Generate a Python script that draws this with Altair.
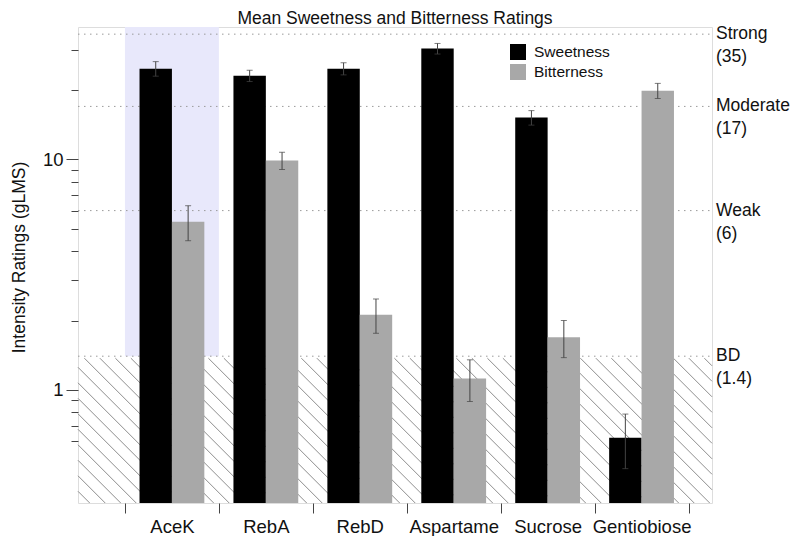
import json
import math
import altair as alt
import pandas as pd

# ---- data ----
categories = ["AceK", "RebA", "RebD", "Aspartame", "Sucrose", "Gentiobiose"]
sweetness = [24.8, 23.1, 24.8, 30.3, 15.2, 0.62]
sweetness_se = [1.8, 1.3, 1.5, 1.6, 1.1, 0.165]
bitterness = [5.37, 9.9, 2.12, 1.12, 1.69, 19.9]
bitterness_se = [0.93, 0.85, 0.36, 0.23, 0.31, 1.5]
ref_names = ["Strong", "Moderate", "Weak", "BD"]
ref_values = [35, 17, 6, 1.4]
highlight = "AceK"
series_names = ["Sweetness", "Bitterness"]
series_colors = ["#000000", "#A8A8A8"]
y_tick_values = [0.6, 0.7, 0.8, 0.9, 1, 2, 3, 4, 5, 6, 7, 8, 9, 10, 20, 30]
y_major = [1, 10]

# ---- layout ----
W, H = 634, 476
X_DOM = [-0.5, 6.25]
Y_DOM = [0.3227, 37.6]
PAD = 0.155          # gap between group edge and bars (group units)
FONT = "Liberation Sans"

rows = []
for i, c in enumerate(categories):
    for s, vals, ses in [("Sweetness", sweetness, sweetness_se),
                         ("Bitterness", bitterness, bitterness_se)]:
        v, se = vals[i], ses[i]
        if s == "Sweetness":
            x0, x1 = i + PAD, i + 0.5
        else:
            x0, x1 = i + 0.5, i + 1 - PAD
        rows.append(dict(cat=c, series=s, value=v, lo=v - se, hi=v + se,
                         x0=x0, x1=x1, xc=(x0 + x1) / 2, base=Y_DOM[0]))
bars_df = pd.DataFrame(rows)

hi_idx = categories.index(highlight)
hl_df = pd.DataFrame([dict(x0=hi_idx, x1=hi_idx + 1, y0=min(ref_values), y1=Y_DOM[1])])

ref_df = pd.DataFrame(dict(name=[f"{n}\n({v})" for n, v in zip(ref_names, ref_values)],
                           value=ref_values))

# hatch lines below the detection threshold (decoration)
lt, lb = math.log10(Y_DOM[1]), math.log10(Y_DOM[0])
bd = min(ref_values)
y_bd_px = (lt - math.log10(bd)) / (lt - lb) * H
spacing = 15.5
c0 = -324.8
hatch = []
k_min = math.floor((-H - c0) / spacing)
k_max = math.ceil((W - y_bd_px - c0) / spacing)


def tx(px):
    return X_DOM[0] + px / W * (X_DOM[1] - X_DOM[0])


def ty(py):
    return 10 ** (lt - py / H * (lt - lb))


for k in range(k_min, k_max + 1):
    c = c0 + k * spacing
    ylo = max(y_bd_px + 2, -c)
    yhi = min(H, W - c)
    if ylo < yhi:
        hatch.append(dict(x0=tx(ylo + c), x1=tx(yhi + c), y0=ty(ylo), y1=ty(yhi)))
hatch_df = pd.DataFrame(hatch)

xs = alt.Scale(domain=X_DOM, nice=False, zero=False)
ys = alt.Scale(type="log", domain=Y_DOM, nice=False)

names_js = json.dumps(categories)
x_axis = alt.Axis(
    values=[v / 2 for v in range(0, 13)],
    labelExpr=f"datum.value % 1 != 0 ? {names_js}[floor(datum.value)] : ''",
    tickOpacity={"condition": {"test": "datum.value % 1 == 0", "value": 1}, "value": 0},
    tickSize=10, tickColor="#444", domain=False, grid=False, title=None,
    labelFontSize=18.5, labelColor="#111", labelPadding=4, labelOverlap=False,
    labelFlush=False, labelFont=FONT,
)
major_test = " || ".join(f"datum.value == {v}" for v in y_major)
y_axis = alt.Axis(
    values=y_tick_values, format="~g",
    labelExpr=f"({major_test}) ? datum.label : ''",
    tickSize={"condition": {"test": major_test, "value": 12}, "value": 7},
    tickColor="#444", domain=False, grid=False,
    title="Intensity Ratings (gLMS)", titleFontSize=17.5, titleFontWeight="normal",
    titleColor="#111", titleFont=FONT, titleX=-59, titleY=230, titleBaseline="middle",
    titleAngle=-90, titleAlign="center",
    labelFontSize=18.5, labelColor="#111", labelPadding=3, labelOverlap=False,
    labelFont=FONT,
)


def X(f):
    return alt.X(f, type="quantitative", scale=xs, axis=x_axis)


def Y(f):
    return alt.Y(f, type="quantitative", scale=ys, axis=y_axis)


highlight_layer = alt.Chart(hl_df).mark_rect(color="#E8E8FB").encode(
    x=X("x0"), x2="x1", y=Y("y0"), y2="y1",
)

hatch_layer = alt.Chart(hatch_df).mark_rule(color="#808080", strokeWidth=0.9).encode(
    x=X("x0"), x2="x1", y=Y("y0"), y2="y1",
)

ref_lines = alt.Chart(ref_df).mark_rule(color="#9a9a9a", strokeDash=[1.5, 4.5], strokeWidth=1).encode(
    y=Y("value"), x=alt.value(0), x2=alt.value(W),
)

ref_text = alt.Chart(ref_df).mark_text(
    align="left", baseline="middle", lineBreak="\n", lineHeight=23,
    fontSize=17.5, font=FONT, color="#111",
).encode(
    y=Y("value"), x=alt.value(W + 4), text="name:N",
)

bars = alt.Chart(bars_df).mark_rect().encode(
    x=X("x0"), x2="x1", y=Y("value"), y2="base",
    color=alt.Color("series:N",
                    scale=alt.Scale(domain=series_names, range=series_colors),
                    legend=alt.Legend(orient="none", legendX=432, legendY=17, title=None,
                                      symbolType="square", symbolSize=256,
                                      symbolStrokeWidth=0, symbolOpacity=1,
                                      labelFontSize=15.5, labelFont=FONT, labelColor="#111",
                                      labelOffset=8, rowPadding=3, padding=0)),
)

err = alt.Chart(bars_df).mark_rule(color="#444", strokeWidth=1).encode(
    x=X("xc"), y=Y("lo"), y2="hi",
)
cap_lo = alt.Chart(bars_df).mark_tick(color="#444", orient="horizontal", size=6, thickness=1).encode(
    x=X("xc"), y=Y("lo"),
)
cap_hi = alt.Chart(bars_df).mark_tick(color="#444", orient="horizontal", size=6, thickness=1).encode(
    x=X("xc"), y=Y("hi"),
)

chart = alt.layer(
    highlight_layer, hatch_layer, ref_lines, bars, err, cap_lo, cap_hi, ref_text
).properties(
    width=W, height=H,
    title=alt.TitleParams("Mean Sweetness and Bitterness Ratings", fontSize=17.5,
                          fontWeight="normal", font=FONT, color="#111",
                          anchor="middle", frame="group", offset=0, dy=2),
    autosize=alt.AutoSizeParams(type="none"),
    padding={"left": 70, "top": 19, "right": 80, "bottom": 33},
).configure_view(
    stroke="#666", strokeWidth=1
).configure(font=FONT)

chart.save("out.html", embed_options={"renderer": "svg", "actions": False})
